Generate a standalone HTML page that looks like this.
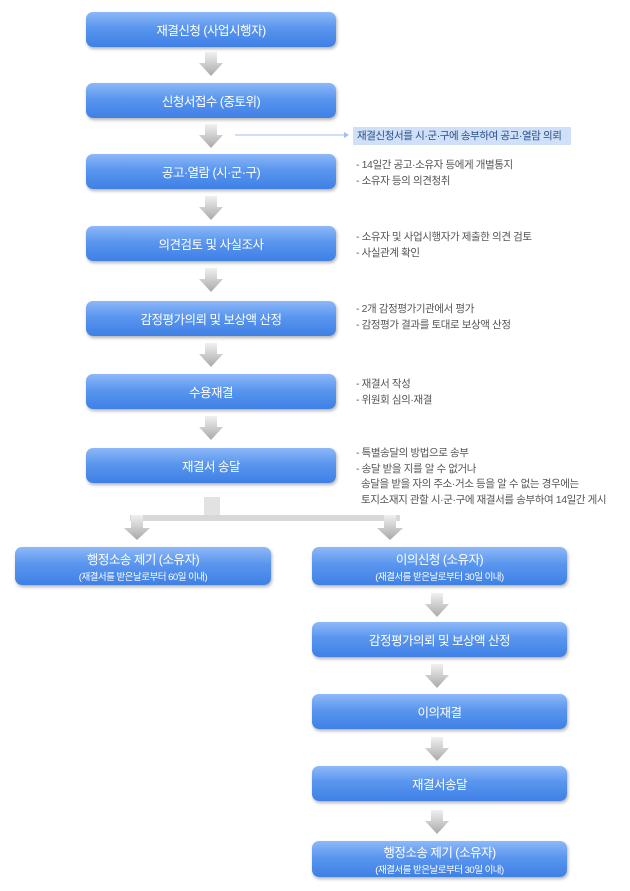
<!DOCTYPE html>
<html><head><meta charset="utf-8"><style>
body{margin:0;width:630px;height:891px;background:#fff;position:relative;overflow:hidden;font-family:"Liberation Sans","Noto Sans CJK KR",sans-serif}
.b{position:absolute;border-radius:7px;background:linear-gradient(#8db8f8,#5a96ee 45%,#3f80e6);color:#fff;text-align:center;font-size:12.5px;box-shadow:1px 2px 3px rgba(0,0,0,.3);display:flex;flex-direction:column;justify-content:center;letter-spacing:-.5px}
.b small{font-size:9.5px;margin-top:1px}
.m{left:86px;width:250px;height:35px}
.r{left:312px;width:255px}
.n{position:absolute;left:356px;font-size:10.5px;color:#555;line-height:15.5px;letter-spacing:-.4px;white-space:pre}
</style></head><body>
<svg width="630" height="891" style="position:absolute;left:0;top:0">
<defs><linearGradient id="g" x1="0" y1="0" x2="0" y2="1"><stop offset="0" stop-color="#f0f0f0"/><stop offset="1" stop-color="#a8a8a8"/></linearGradient>
<symbol id="ar" viewBox="0 0 24 24"><path d="M6 0h12v11h6L12 24 0 11h6z" fill="url(#g)"/></symbol></defs>
<use href="#ar" x="199" y="52" width="24" height="24"/>
<use href="#ar" x="199" y="124" width="24" height="24"/>
<use href="#ar" x="199" y="196" width="24" height="24"/>
<use href="#ar" x="199" y="268" width="24" height="24"/>
<use href="#ar" x="199" y="343" width="24" height="24"/>
<use href="#ar" x="199" y="416" width="24" height="24"/>
<use href="#ar" x="425" y="593" width="24" height="24"/>
<use href="#ar" x="425" y="664" width="24" height="24"/>
<use href="#ar" x="425" y="737" width="24" height="24"/>
<use href="#ar" x="425" y="810" width="24" height="24"/>
<rect x="204" y="497" width="16" height="20" fill="#e2e2e2"/>
<rect x="130" y="515" width="270" height="6" fill="#d8d8d8"/>
<path d="M131 515h12v13h7l-13 12-13-12h7z" fill="url(#g)"/>
<path d="M384 515h12v13h7l-13 12-13-12h7z" fill="url(#g)"/>
<line x1="235" y1="135" x2="344" y2="135" stroke="#9ec0ee" stroke-width="1"/>
<path d="M344 132l5 3-5 3z" fill="#9ec0ee"/>
</svg>
<div class="b m" style="top:12px">재결신청 (사업시행자)</div>
<div class="b m" style="top:83px">신청서접수 (중토위)</div>
<div class="b m" style="top:154px">공고·열람 (시·군·구)</div>
<div class="b m" style="top:226px">의견검토 및 사실조사</div>
<div class="b m" style="top:301px">감정평가의뢰 및 보상액 산정</div>
<div class="b m" style="top:374px">수용재결</div>
<div class="b m" style="top:448px">재결서 송달</div>
<div class="b" style="left:15px;width:256px;top:547px;height:38px">행정소송 제기 (소유자)<small>(재결서를 받은날로부터 60일 이내)</small></div>
<div class="b r" style="top:547px;height:38px">이의신청 (소유자)<small>(재결서를 받은날로부터 30일 이내)</small></div>
<div class="b r" style="top:622px;height:35px">감정평가의뢰 및 보상액 산정</div>
<div class="b r" style="top:694px;height:35px">이의재결</div>
<div class="b r" style="top:766px;height:35px">재결서송달</div>
<div class="b r" style="top:841px;height:36px">행정소송 제기 (소유자)<small>(재결서를 받은날로부터 30일 이내)</small></div>
<div style="position:absolute;left:353px;top:127px;width:218px;height:18px;background:#cfe0f8;color:#2a4f8a;font-size:10.5px;line-height:18px;padding-left:4px;box-sizing:border-box;letter-spacing:-.4px">재결신청서를 시·군·구에 송부하여 공고·열람 의뢰</div>
<div class="n" style="top:158px">- 14일간 공고·소유자 등에게 개별통지
- 소유자 등의 의견청취</div>
<div class="n" style="top:230px">- 소유자 및 사업시행자가 제출한 의견 검토
- 사실관계 확인</div>
<div class="n" style="top:302px">- 2개 감정평가기관에서 평가
- 감정평가 결과를 토대로 보상액 산정</div>
<div class="n" style="top:377px">- 재결서 작성
- 위원회 심의·재결</div>
<div class="n" style="top:446px">- 특별송달의 방법으로 송부
- 송달 받을 지를 알 수 없거나
  송달을 받을 자의 주소·거소 등을 알 수 없는 경우에는
  토지소재지 관할 시·군·구에 재결서를 송부하여 14일간 게시</div>
</body></html>
